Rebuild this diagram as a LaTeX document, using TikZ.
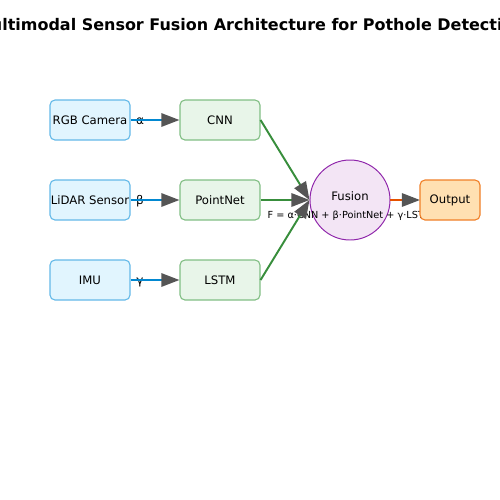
\documentclass[tikz,border=0pt]{standalone}
\usepackage{fontspec}
\setmainfont{DejaVu Sans}
\usepackage{xcolor}
\usepackage{tikz}
\usetikzlibrary{arrows.meta}
\definecolor{inputfill}{RGB}{225,245,254}
\definecolor{inputline}{RGB}{100,185,232}
\definecolor{inputarrow}{RGB}{2,136,209}
\definecolor{procfill}{RGB}{232,245,233}
\definecolor{procline}{RGB}{129,190,132}
\definecolor{procarrow}{RGB}{56,142,60}
\definecolor{fusefill}{RGB}{243,229,245}
\definecolor{fuseline}{RGB}{142,36,170}
\definecolor{outfill}{RGB}{255,224,178}
\definecolor{outline}{RGB}{240,128,40}
\definecolor{outarrow}{RGB}{230,81,0}
\definecolor{tipgray}{RGB}{85,85,85}
\tikzset{
    inputbox/.style={draw=inputline, fill=inputfill, line width=0.8pt, rounded corners=3.6pt,
        minimum width=57.6pt, minimum height=28.8pt, inner sep=0pt, font=\fontsize{8.4}{10}\selectfont},
    procbox/.style={inputbox, draw=procline, fill=procfill},
    outbox/.style={inputbox, draw=outline, fill=outfill, minimum width=43.2pt},
    fusebox/.style={circle, draw=fuseline, fill=fusefill, line width=0.7pt, minimum size=57.6pt,
        inner sep=0pt, font=\fontsize{8.4}{10}\selectfont},
    weight/.style={font=\fontsize{8.6}{10}\selectfont, inner sep=0pt},
    flow/.style={line width=1.4pt, -{Triangle[length=13pt, width=9.6pt, color=tipgray, fill=tipgray]}}
}

\begin{document}
\begin{tikzpicture}[x=0.72pt, y=-0.72pt]
    \useasboundingbox (0,0) rectangle (500,500);
    \node[font=\bfseries\fontsize{11.5}{14}\selectfont] (title) at (250,25)
        {Multimodal Sensor Fusion Architecture for Pothole Detection};
    % sensors
    \node[inputbox] (rgb) at (90,120) {RGB Camera};
    \node[inputbox] (lidar) at (90,200) {LiDAR Sensor};
    \node[inputbox] (imu) at (90,280) {IMU};
    % feature extractors
    \node[procbox] (cnn) at (220,120) {CNN};
    \node[procbox] (pointnet) at (220,200) {PointNet};
    \node[procbox] (lstm) at (220,280) {LSTM};
    % weights
    \node[weight] (alpha) at (140,121) {α};
    \node[weight] (beta) at (140,201) {β};
    \node[weight] (gamma) at (140,282) {γ};
    \draw[flow, inputarrow] (rgb) -- (cnn);
    \draw[flow, inputarrow] (lidar) -- (pointnet);
    \draw[flow, inputarrow] (imu) -- (lstm);
    % fusion
    \node[fusebox] (fusion) at (350,200) {};
    \node[weight, font=\fontsize{8.4}{10}\selectfont] (fusename) at (350,196) {Fusion};
    \node[font=\fontsize{7}{8}\selectfont, inner sep=0pt] (formula) at (350,216)
        {F = α·CNN + β·PointNet + γ·LSTM};
    \draw[flow, procarrow] (cnn.east) -- (fusion.west);
    \draw[flow, procarrow] (pointnet.east) -- (fusion.west);
    \draw[flow, procarrow] (lstm.east) -- (fusion.west);
    \draw[flow, outarrow] (fusion.east) -- (420,200) coordinate (outin);
    \node[outbox] (output) at (450,200) {Output};
\end{tikzpicture}
\end{document}
